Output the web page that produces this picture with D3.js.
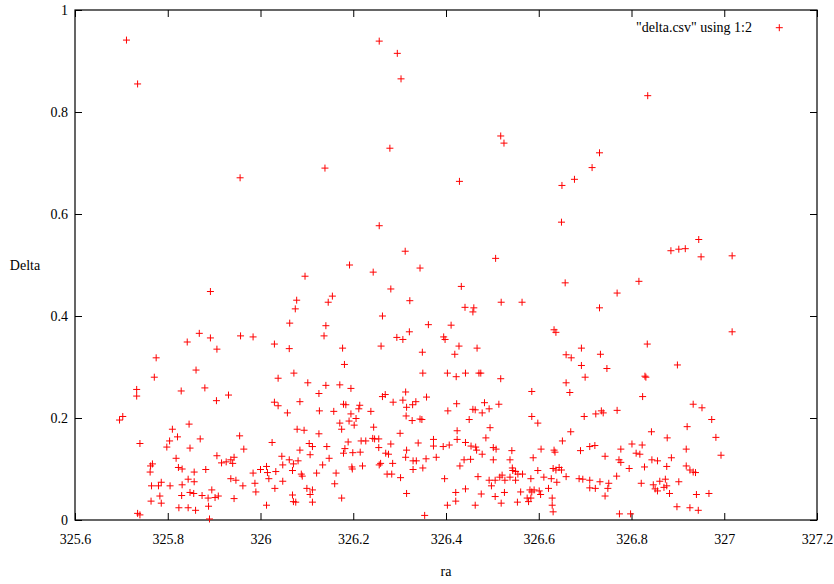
<!DOCTYPE html>
<html><head><meta charset="utf-8">
<script src="https://cdn.jsdelivr.net/npm/d3@7"></script>
<style>
html,body{margin:0;padding:0;background:#fff;}
svg{display:block;}
svg text{font-family:"Liberation Serif","Times New Roman",serif !important;}
</style></head>
<body>
<svg id="chart" width="834" height="584"></svg>
<script>
const xTicks = [325.6, 325.8, 326, 326.2, 326.4, 326.6, 326.8, 327, 327.2];
const yTicks = [0, 0.2, 0.4, 0.6, 0.8, 1];
const xLabel = "ra";
const yLabel = "Delta";
const legendLabel = "\"delta.csv\" using 1:2";

const ra = [
325.711,325.735,325.956,326.139,326.256,326.295,326.303,326.279,326.429,326.518,326.525,326.650,326.677,326.715,326.731,326.835,
326.096,325.892,326.078,326.075,326.155,326.146,326.063,326.141,326.137,325.868,325.842,325.892,325.906,325.957,325.984,326.030,326.062,325.775,325.861,
326.256,326.649,326.312,326.507,326.192,326.243,326.344,326.657,326.281,326.433,326.322,326.519,326.564,326.441,326.460,326.458,326.731,326.263,326.362,326.411,326.321,326.294,326.307,326.395,326.398,326.633,326.637,326.177,326.260,326.428,326.467,326.349,326.419,326.692,326.659,326.670,326.733,326.181,326.692,326.747,
326.945,326.885,326.902,326.916,326.950,327.017,326.816,326.769,327.017,326.834,326.899,
325.771,325.733,325.733,325.829,325.880,325.931,325.905,325.696,325.703,325.740,325.810,325.804,325.821,325.846,325.870,325.798,325.848,325.818,325.823,325.831,325.767,325.763,325.762,325.765,325.780,325.786,325.805,325.783,325.764,325.786,325.844,325.831,325.857,325.857,325.882,325.856,325.848,325.830,325.874,325.824,325.844,325.860,325.887,325.888,325.895,325.902,325.909,325.890,325.735,325.740,
325.906,325.916,325.926,325.936,325.940,325.943,325.936,325.947,325.943,325.962,325.955,325.964,325.984,325.988,325.990,326.000,326.013,326.015,326.018,326.013,326.025,326.030,326.038,326.038,326.072,326.058,326.102,326.085,326.046,326.048,326.033,326.048,326.031,326.062,326.071,326.081,326.069,326.088,326.090,326.085,326.079,326.094,326.105,326.112,326.107,326.126,326.100,326.112,326.107,326.112,326.069,326.071,326.076,326.121,326.134,326.143,326.148,326.127,326.141,326.126,
326.350,326.403,326.422,326.442,326.471,326.475,326.518,326.700,326.659,326.171,326.195,326.667,326.585,326.269,326.263,326.313,326.358,326.286,326.307,326.328,326.335,326.315,326.179,326.184,326.214,326.212,326.238,326.158,326.423,326.483,326.514,326.493,326.458,326.463,326.478,326.404,326.195,326.206,326.191,326.171,326.175,326.202,326.314,326.327,326.344,326.348,326.450,326.585,326.598,326.735,326.739,326.723,326.698,326.669,326.244,326.301,326.424,326.424,326.495,326.486,326.651,
326.189,326.217,326.227,326.242,326.246,326.255,326.281,326.340,326.373,326.373,326.182,326.179,326.199,326.215,326.255,326.270,326.276,326.315,326.394,326.407,326.442,326.454,326.464,326.466,326.478,326.502,326.508,326.542,326.605,326.633,326.635,326.690,326.710,326.721,326.743,326.313,326.329,326.336,326.357,326.379,326.439,326.453,326.502,326.538,326.588,326.259,326.256,326.285,326.197,326.198,326.220,326.329,326.350,326.430,326.543,326.631,326.637,326.644,326.649,326.598,326.544,326.550,326.555,326.565,326.273,326.283,326.302,326.163,326.469,326.521,326.516,326.506,326.493,326.498,326.527,326.538,326.550,326.583,326.611,326.627,326.639,326.659,326.687,326.695,326.710,326.732,326.751,326.160,326.397,326.621,326.710,326.722,326.749,326.175,326.315,326.421,326.442,326.476,326.506,326.526,326.561,326.581,326.585,326.590,326.601,326.575,326.583,326.604,326.629,326.743,326.421,326.403,326.463,326.519,326.554,326.578,326.629,326.631,326.354,
326.829,326.831,326.824,326.769,326.933,326.952,326.973,326.920,326.843,326.877,326.982,326.993,326.918,326.801,326.823,326.777,326.810,326.818,326.773,326.777,326.844,326.856,326.886,326.795,326.828,326.876,326.918,326.926,326.933,326.938,326.768,326.821,326.847,326.861,326.873,326.902,326.851,326.856,326.870,326.876,326.882,326.940,326.967,326.898,326.926,326.944,326.774,326.798
];
const delta = [
0.941,0.855,0.671,0.690,0.939,0.915,0.865,0.729,0.664,0.753,0.739,0.656,0.668,0.691,0.720,0.832,
0.478,0.448,0.431,0.414,0.439,0.427,0.386,0.381,0.361,0.366,0.349,0.357,0.335,0.361,0.359,0.345,0.336,0.318,0.294,
0.577,0.584,0.527,0.513,0.500,0.486,0.494,0.465,0.453,0.458,0.430,0.427,0.427,0.417,0.416,0.408,0.416,0.400,0.383,0.382,0.369,0.358,0.354,0.359,0.354,0.373,0.368,0.337,0.341,0.341,0.337,0.329,0.325,0.337,0.324,0.318,0.325,0.305,0.303,0.297,
0.550,0.528,0.531,0.532,0.516,0.518,0.468,0.445,0.369,0.345,0.304,
0.280,0.256,0.243,0.253,0.259,0.245,0.234,0.196,0.203,0.150,0.178,0.155,0.163,0.188,0.159,0.143,0.141,0.121,0.103,0.100,0.110,0.106,0.094,0.067,0.067,0.074,0.067,0.047,0.037,0.033,0.080,0.069,0.075,0.094,0.099,0.052,0.054,0.048,0.048,0.024,0.024,0.019,0.043,0.027,0.059,0.044,0.047,0.002,0.013,0.010,
0.126,0.112,0.114,0.118,0.111,0.123,0.081,0.078,0.042,0.067,0.165,0.139,0.092,0.072,0.055,0.099,0.105,0.093,0.081,0.029,0.152,0.231,0.224,0.278,0.288,0.210,0.269,0.232,0.125,0.108,0.095,0.076,0.062,0.118,0.110,0.116,0.097,0.090,0.086,0.137,0.178,0.176,0.150,0.144,0.128,0.169,0.062,0.059,0.050,0.035,0.049,0.036,0.035,0.092,0.108,0.144,0.121,0.214,0.264,0.248,
0.288,0.288,0.281,0.288,0.288,0.288,0.277,0.280,0.269,0.265,0.258,0.250,0.252,0.246,0.242,0.251,0.241,0.231,0.235,0.226,0.232,0.221,0.227,0.226,0.225,0.218,0.213,0.213,0.228,0.230,0.227,0.218,0.217,0.216,0.210,0.214,0.208,0.199,0.194,0.190,0.178,0.186,0.204,0.195,0.198,0.197,0.197,0.203,0.190,0.214,0.210,0.208,0.203,0.173,0.182,0.170,0.175,0.158,0.181,0.161,0.155,
0.153,0.155,0.155,0.160,0.159,0.159,0.149,0.151,0.158,0.145,0.140,0.131,0.132,0.133,0.142,0.131,0.129,0.137,0.144,0.147,0.152,0.145,0.143,0.137,0.129,0.142,0.139,0.136,0.139,0.137,0.133,0.136,0.144,0.146,0.125,0.123,0.116,0.116,0.120,0.123,0.118,0.119,0.118,0.118,0.122,0.111,0.108,0.111,0.104,0.100,0.106,0.099,0.102,0.106,0.102,0.101,0.098,0.103,0.098,0.097,0.097,0.095,0.090,0.090,0.090,0.090,0.083,0.092,0.085,0.088,0.084,0.078,0.078,0.067,0.078,0.084,0.078,0.081,0.084,0.081,0.074,0.085,0.081,0.080,0.078,0.075,0.072,0.071,0.081,0.062,0.063,0.062,0.062,0.043,0.052,0.054,0.061,0.051,0.046,0.054,0.055,0.059,0.055,0.059,0.057,0.043,0.043,0.050,0.043,0.047,0.037,0.029,0.029,0.033,0.035,0.036,0.029,0.016,0.009,
0.282,0.280,0.242,0.215,0.227,0.220,0.197,0.183,0.173,0.161,0.162,0.127,0.139,0.149,0.147,0.139,0.131,0.129,0.118,0.113,0.118,0.116,0.122,0.101,0.104,0.105,0.106,0.098,0.094,0.093,0.086,0.072,0.069,0.076,0.080,0.075,0.061,0.057,0.064,0.067,0.052,0.050,0.052,0.026,0.024,0.019,0.012,0.012
];

const W = 834, H = 584;
const m = {left: 75, top: 10, right: 17, bottom: 64};
const svg = d3.select("#chart");
const x = d3.scaleLinear().domain([325.6, 327.2]).range([m.left, W - m.right]);
const y = d3.scaleLinear().domain([0, 1]).range([H - m.bottom, m.top]);
const fmt = d => String(+d.toFixed(1));
const tickLen = 7;
const serif = "'Liberation Serif','Times New Roman',serif";

function styleAxis(g){
  g.attr("font-family", serif);
  g.select(".domain").remove();
  g.selectAll(".tick line").attr("stroke", "#000").attr("stroke-width", 1);
  g.selectAll(".tick text").attr("fill", "#000").style("font-size", "14px").style("font-family", serif);
}

svg.append("g").attr("transform", `translate(0,${y(0)})`)
  .call(d3.axisBottom(x).tickValues(xTicks).tickSize(-tickLen).tickPadding(14).tickFormat(fmt))
  .call(styleAxis);
svg.append("g").attr("transform", `translate(0,${y(1)})`)
  .call(d3.axisTop(x).tickValues(xTicks).tickSize(-tickLen).tickFormat(""))
  .call(styleAxis);
svg.append("g").attr("transform", `translate(${x(325.6)},0)`)
  .call(d3.axisLeft(y).tickValues(yTicks).tickSize(-tickLen).tickPadding(7).tickFormat(fmt))
  .call(styleAxis);
svg.append("g").attr("transform", `translate(${x(327.2)},0)`)
  .call(d3.axisRight(y).tickValues(yTicks).tickSize(-tickLen).tickFormat(""))
  .call(styleAxis);

svg.append("rect")
  .attr("x", x(325.6)).attr("y", y(1))
  .attr("width", x(327.2) - x(325.6)).attr("height", y(0) - y(1))
  .attr("fill", "none").attr("stroke", "#000").attr("stroke-width", 1.2);

const arm = 3.5;
const pts = svg.append("g").attr("stroke", "#ff0000").attr("stroke-width", 1).attr("fill", "none");
const data = ra.map((v, i) => [v, delta[i]]);
pts.selectAll("path").data(data).join("path")
  .attr("d", d => {
    const px = x(d[0]), py = y(d[1]);
    return `M${px - arm},${py}H${px + arm}M${px},${py - arm}V${py + arm}`;
  });

svg.append("text").attr("x", (x(325.6) + x(327.2)) / 2).attr("y", 576)
  .attr("text-anchor", "middle").style("font-size", "14px").attr("fill", "#000").text(xLabel);
svg.append("text").attr("x", 25).attr("y", y(0.5) + 5)
  .attr("text-anchor", "middle").style("font-size", "14px").attr("fill", "#000").text(yLabel);

const lg = svg.append("g");
lg.append("text").attr("x", 752).attr("y", 32).attr("text-anchor", "end")
  .style("font-size", "14px").attr("fill", "#000").text(legendLabel);
lg.append("path").attr("stroke", "#ff0000").attr("stroke-width", 1)
  .attr("d", `M${779.3 - arm},27.7H${779.3 + arm}M779.3,${27.7 - arm}V${27.7 + arm}`);
</script>
</body></html>
